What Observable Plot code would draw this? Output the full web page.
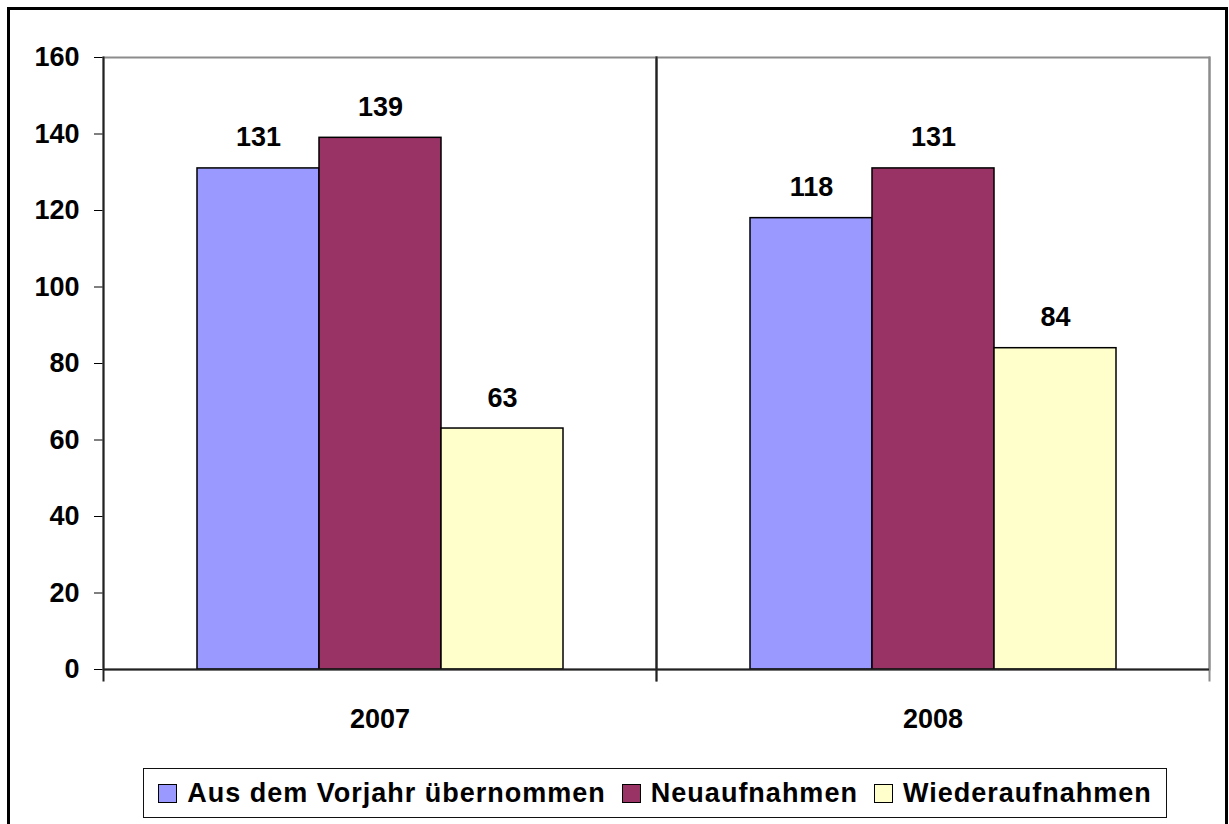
<!DOCTYPE html>
<html>
<head>
<meta charset="utf-8">
<script src="https://cdn.jsdelivr.net/npm/d3@7"></script>
<script src="https://cdn.jsdelivr.net/npm/@observablehq/plot@0.6"></script>
<style>
  html, body { margin: 0; padding: 0; background: #fff; width: 1229px; height: 824px; overflow: hidden; }
  #outer { position: absolute; left: 7px; top: 7px; width: 1215px; height: 840px; border: 3px solid #000; box-sizing: content-box; }
  #chart { position: absolute; left: 0; top: 0; }
  #legend { position: absolute; left: 143px; top: 768px; width: 1022px; height: 48px; border: 1px solid #111;
    display: flex; align-items: center; justify-content: center; background: #fff;
    font-family: "Liberation Sans", Arial, sans-serif; font-weight: bold; font-size: 27px; letter-spacing: 1px; color: #000; }
  .item { display: flex; align-items: center; margin: 0 8px; white-space: nowrap; }
  .sw { width: 17px; height: 17px; border: 1.5px solid #000; margin-right: 10px; }
</style>
</head>
<body>
<div id="outer"></div>
<div id="chart"></div>
<div id="legend"></div>
<script>
const years = ["2007", "2008"];
const series = ["Aus dem Vorjahr übernommen", "Neuaufnahmen", "Wiederaufnahmen"];
const values2007 = [131, 139, 63];
const values2008 = [118, 131, 84];
const colors = ["#9999FF", "#993366", "#FFFFCC"];
const yTicks = [0, 20, 40, 60, 80, 100, 120, 140, 160];

const valuesByYear = [values2007, values2008];
const data = years.flatMap((yr, i) => series.map((s, j) => ({year: yr, series: s, value: valuesByYear[i][j]})));

const chart = Plot.plot({
  width: 1229,
  height: 760,
  marginLeft: 103,
  marginRight: 20,
  marginTop: 57,
  marginBottom: 91,
  style: {fontFamily: "'Liberation Sans', Arial, sans-serif", fontWeight: "bold", fontSize: "27px", color: "#000", background: "transparent", overflow: "visible"},
  fx: {domain: years, padding: 0, label: null, axis: "bottom", tickSize: 0, tickPadding: 39},
  x: {domain: series, paddingInner: 0, paddingOuter: 0.75, axis: null},
  y: {domain: [0, 160], ticks: yTicks, tickSize: 9, tickPadding: 15, label: null},
  color: {domain: series, range: colors},
  marks: [
    Plot.frame({stroke: "#8c8c8c", strokeWidth: 2}),
    Plot.frame({anchor: "right", stroke: "#8c8c8c", strokeWidth: 2, insetBottom: -11}),
    Plot.frame({anchor: "left", stroke: "#222", strokeWidth: 2, insetBottom: -11}),
    Plot.barY(data, {fx: "year", x: "series", y: "value", fill: "series", stroke: "#000", strokeWidth: 1.5}),
    Plot.ruleY([0], {stroke: "#222", strokeWidth: 2}),
    Plot.text(data, {fx: "year", x: "series", y: "value", text: d => String(d.value), lineAnchor: "bottom", dy: -22, fontSize: 27, fontWeight: "bold", fill: "#000"})
  ]
});
document.getElementById("chart").appendChild(chart);

const legend = document.getElementById("legend");
series.forEach((s, i) => {
  const item = document.createElement("div");
  item.className = "item";
  const sw = document.createElement("div");
  sw.className = "sw";
  sw.style.background = colors[i];
  const label = document.createElement("span");
  label.textContent = s;
  item.appendChild(sw);
  item.appendChild(label);
  legend.appendChild(item);
});
</script>
</body>
</html>
